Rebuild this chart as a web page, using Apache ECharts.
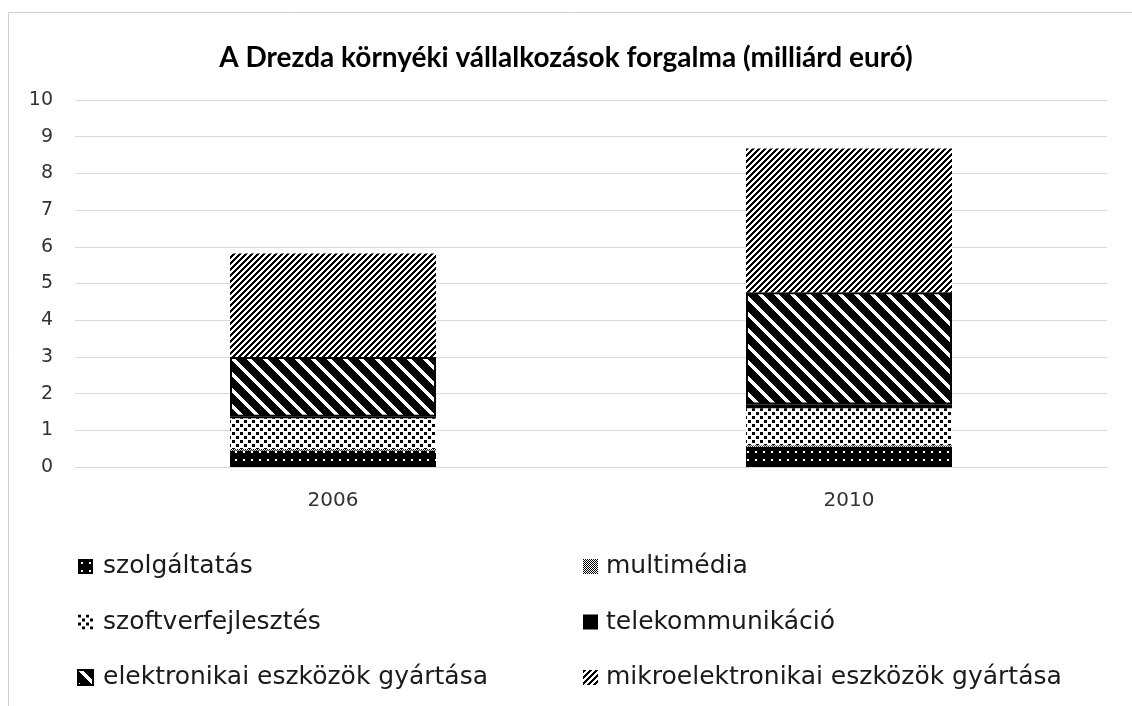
<!DOCTYPE html>
<html>
<head>
<meta charset="utf-8">
<script src="https://cdn.jsdelivr.net/npm/echarts@6/dist/echarts.min.js"></script>
<style>
  html, body { margin: 0; padding: 0; background: #fff; }
  #chart { width: 1132px; height: 706px; }
</style>
</head>
<body>
<div id="chart"></div>
<script>
// adatok (milliárd euró)
const categories = ['2006', '2010'];
const szolgaltatas = [0.45, 0.55];
const multimedia = [0.04, 0.04];
const szoftverfejlesztes = [0.84, 1.01];
const telekommunikacio = [0.04, 0.1];
const elektronikai = [1.63, 3.06];
const mikroelektronikai = [2.82, 3.92];
const yTicks = [0, 1, 2, 3, 4, 5, 6, 7, 8, 9, 10];

const TITLE_FONT = 'Lato';
const FONT = 'DejaVu Sans';

// pixeles mintázat csempék
function makeTile(w, h, fn) {
    const c = document.createElement('canvas');
    c.width = w; c.height = h;
    const ctx = c.getContext('2d');
    const img = ctx.createImageData(w, h);
    for (let y = 0; y < h; y++) {
        for (let x = 0; x < w; x++) {
            const v = fn(x, y) ? 0 : 255;
            const i = (y * w + x) * 4;
            img.data[i] = v; img.data[i + 1] = v; img.data[i + 2] = v; img.data[i + 3] = 255;
        }
    }
    ctx.putImageData(img, 0, 0);
    return { image: c, repeat: 'repeat' };
}

// fekete alapon fehér pöttyök
const patSzolg = makeTile(8, 8, (x, y) => !((x === 3 || x === 4) && (y === 3 || y === 4)));
// szürke sakktábla
const patMulti = makeTile(2, 2, (x, y) => (x + y) % 2 === 0);
// fehér alapon fekete kis négyzetek, eltolva
const patSzoft = makeTile(8, 8, (x, y) =>
    ((x % 8 < 3) && (y % 8 < 3)) || (((x + 4) % 8 < 3) && ((y + 4) % 8 < 3)));
// vastag "\" csíkok
const patElek = makeTile(16, 16, (x, y) => ((x - y + 32) % 16) >= 5);
// vékony "/" csíkok
const patMikro = makeTile(6, 6, (x, y) => ((x + y) % 6) < 3);

const myChart = echarts.init(document.getElementById('chart'));

function barSeries(name, data, color, extra) {
    return Object.assign({
        name: name,
        type: 'bar',
        stack: 'total',
        barWidth: 206,
        data: data,
        itemStyle: { color: color },
        emphasis: { disabled: true }
    }, extra || {});
}

const legendText = { fontFamily: FONT, fontSize: 25, lineHeight: 25, color: '#1a1a1a', padding: [0, 0, 0, 5] };

myChart.setOption({
    animation: false,
    title: {
        text: 'A Drezda környéki vállalkozások forgalma (milliárd euró)',
        left: 'center',
        top: 39,
        textStyle: { fontFamily: TITLE_FONT, fontSize: 28, fontWeight: 'bold', color: '#000' }
    },
    grid: { left: 75, right: 25, top: 100, bottom: 239 },
    xAxis: {
        type: 'category',
        data: categories,
        axisLine: { show: true, lineStyle: { color: '#d9d9d9', width: 1 } },
        axisTick: { show: false },
        axisLabel: { fontFamily: FONT, fontSize: 20, color: '#333', margin: 24 }
    },
    yAxis: {
        type: 'value',
        min: yTicks[0],
        max: yTicks[yTicks.length - 1],
        interval: 1,
        axisLine: { show: false },
        axisTick: { show: false },
        axisLabel: { fontFamily: FONT, fontSize: 19, color: '#333', margin: 22 },
        splitLine: { lineStyle: { color: '#d9d9d9', width: 1 } }
    },
    legend: [
        {
            orient: 'vertical',
            left: 77,
            top: 554,
            padding: 0,
            itemGap: 30.5,
            itemWidth: 15,
            itemHeight: 15,
            icon: 'rect',
            selectedMode: false,
            textStyle: legendText,
            data: ['szolgáltatás', 'szoftverfejlesztés', 'elektronikai eszközök gyártása']
        },
        {
            orient: 'vertical',
            left: 583,
            top: 554,
            padding: 0,
            itemGap: 30.5,
            itemWidth: 15,
            itemHeight: 15,
            icon: 'rect',
            selectedMode: false,
            textStyle: Object.assign({}, legendText, { padding: [0, 0, 0, 3] }),
            data: ['multimédia', 'telekommunikáció', 'mikroelektronikai eszközök gyártása']
        }
    ],
    graphic: [
        {
            type: 'rect',
            shape: { x: 8.5, y: 12.5, width: 1140, height: 720 },
            style: { fill: 'none', stroke: '#d0d0d0', lineWidth: 1 },
            silent: true
        }
    ],
    series: [
        barSeries('szolgáltatás', szolgaltatas, patSzolg),
        barSeries('multimédia', multimedia, patMulti),
        barSeries('szoftverfejlesztés', szoftverfejlesztes, patSzoft),
        barSeries('telekommunikáció', telekommunikacio, '#000'),
        barSeries('elektronikai eszközök gyártása', elektronikai, patElek,
            { itemStyle: { color: patElek, borderColor: '#000', borderWidth: 2 } }),
        barSeries('mikroelektronikai eszközök gyártása', mikroelektronikai, patMikro)
    ]
});
</script>
</body>
</html>
